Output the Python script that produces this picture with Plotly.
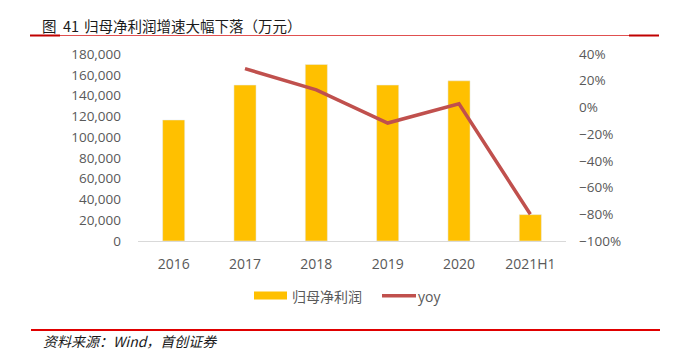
import plotly.graph_objects as go

categories = ["2016", "2017", "2018", "2019", "2020", "2021H1"]
profit = [116500, 150100, 169900, 150100, 154200, 25400]
yoy = [None, 0.290, 0.132, -0.117, 0.027, -0.80]

W, H = 680, 351
L, R, T, B = 138, 566, 54, 241

BAR_C = "#FFC000"
LINE_C = "#C0504D"
TXT_C = "#595959"
FONT = "Open Sans, Noto Sans CJK SC, sans-serif"
CJK = "Noto Sans CJK SC, sans-serif"


def px(x):
    return (x - L) / (R - L)


def py(y):
    return (B - y) / (B - T)


fig = go.Figure()
fig.add_trace(go.Bar(x=categories, y=profit, marker_color=BAR_C, name="归母净利润",
                     showlegend=False))
fig.add_trace(go.Scatter(x=categories, y=yoy, yaxis="y2", mode="lines",
                         line=dict(color=LINE_C, width=3.5), name="yoy",
                         showlegend=False, connectgaps=False))

shapes = [
    # top rule
    dict(type="line", xref="paper", yref="paper", x0=px(30), x1=px(659), y0=py(35.5), y1=py(35.5),
         line=dict(color="#E05050", width=1)),
    dict(type="line", xref="paper", yref="paper", x0=px(30), x1=px(60), y0=py(35.5), y1=py(35.5),
         line=dict(color="#C00000", width=2)),
    dict(type="line", xref="paper", yref="paper", x0=px(629), x1=px(659), y0=py(35.5), y1=py(35.5),
         line=dict(color="#C00000", width=2)),
    # bottom rule
    dict(type="line", xref="paper", yref="paper", x0=px(31), x1=px(660), y0=py(330), y1=py(330),
         line=dict(color="#E00000", width=2)),
    # legend swatches
    dict(type="rect", xref="paper", yref="paper", x0=px(254), x1=px(287), y0=py(291.5), y1=py(299.5),
         fillcolor=BAR_C, line=dict(width=0)),
    dict(type="line", xref="paper", yref="paper", x0=px(382), x1=px(416), y0=py(295.7), y1=py(295.7),
         line=dict(color=LINE_C, width=3.5)),
]

title_font = dict(family=CJK, size=14.5, color="#1a1a1a")
annotations = [
    dict(text="图", xref="paper", yref="paper", x=px(40), y=py(25), xanchor="left",
         yanchor="middle", showarrow=False, font=title_font),
    dict(text="41", xref="paper", yref="paper", x=px(61), y=py(25), xanchor="left",
         yanchor="middle", showarrow=False, font=title_font),
    dict(text="归母净利润增速大幅下落（万元）", xref="paper", yref="paper",
         x=px(82), y=py(25), xanchor="left", yanchor="middle", showarrow=False,
         font=title_font),
    dict(text="<i>资料来源：Wind，首创证券</i>", xref="paper", yref="paper",
         x=px(41), y=py(340.5), xanchor="left", yanchor="middle", showarrow=False,
         font=dict(family=CJK, size=14, color="#1a1a1a")),
    dict(text="归母净利润", xref="paper", yref="paper",
         x=px(290), y=py(296), xanchor="left", yanchor="middle", showarrow=False,
         font=dict(family=CJK, size=14, color=TXT_C)),
    dict(text="yoy", xref="paper", yref="paper",
         x=px(416), y=py(296), xanchor="left", yanchor="middle", showarrow=False,
         font=dict(family=FONT, size=14, color=TXT_C)),
]

fig.update_layout(
    width=W, height=H,
    margin=dict(l=L, r=W - R, t=T, b=H - B, pad=0),
    paper_bgcolor="white", plot_bgcolor="white",
    bargap=0.69,
    showlegend=False,
    font=dict(family=FONT, size=13.5, color=TXT_C),
    xaxis=dict(type="category", showgrid=False, showline=True, linecolor="#D9D9D9",
               linewidth=1, ticks="", tickfont=dict(size=14, color=TXT_C),
               ticklabelstandoff=10, zeroline=False),
    yaxis=dict(range=[0, 180000], dtick=20000, tickformat=",", showgrid=False,
               showline=False, zeroline=False, ticks="", ticklabelstandoff=16,
               tickfont=dict(size=13.5, color=TXT_C)),
    yaxis2=dict(range=[-1, 0.4], dtick=0.2, tickformat=".0%", overlaying="y", side="right",
                showgrid=False, showline=False, zeroline=False, ticks="",
                ticklabelstandoff=12, tickfont=dict(size=13.5, color=TXT_C)),
    shapes=shapes,
    annotations=annotations,
)

fig.write_html("out.html")
